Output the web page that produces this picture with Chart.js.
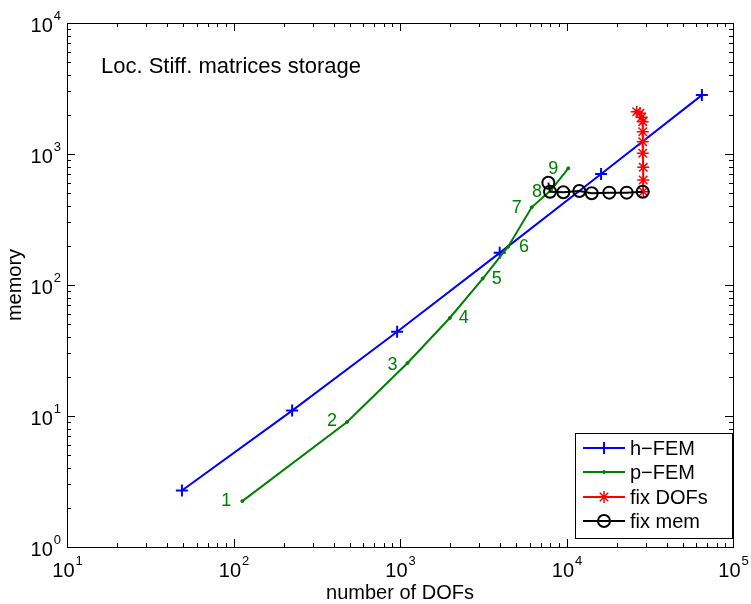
<!DOCTYPE html>
<html>
<head>
<meta charset="utf-8">
<title>Loc. Stiff. matrices storage</title>
<script src="https://cdn.jsdelivr.net/npm/chart.js@4.4.1/dist/chart.umd.min.js"></script>
<style>
  html, body { margin: 0; padding: 0; background: #fff; }
  #wrap { width: 751px; height: 604px; }
</style>
</head>
<body>
<div id="wrap"><canvas id="chart" width="751" height="604"></canvas></div>
<script>
// --- datos (log-log) ---
const hDofs = [49, 225, 961, 3969, 16129, 65025];
const hMem = [2.7, 11, 44, 176, 704, 2816];

const pDofs = [113, 481, 1110, 1990, 3140, 4460, 6180, 8070, 10250];
const pMem = [2.24, 9.0, 25.4, 56, 112, 196, 392, 531, 778];
const pLabels = ['1', '2', '3', '4', '5', '6', '7', '8', '9'];

const fixDofsX = [26400, 27600, 28300, 28700, 28700, 28700, 28700, 28900, 28900, 28900];
const fixDofsY = [2100, 2046, 1906, 1766, 1480, 1241, 1012, 791, 634, 515];

const fixMemX = [7780, 7960, 9570, 11940, 14170, 18060, 22990, 28700];
const fixMemY = [604, 515, 510, 522, 501, 507, 507, 515];

const xExps = [1, 2, 3, 4, 5];
const yExps = [0, 1, 2, 3, 4];
const seriesNames = ['h\u2212FEM', 'p\u2212FEM', 'fix DOFs', 'fix mem'];

const FONT = '"Liberation Sans", Arial, Helvetica, sans-serif';
const GREEN = '#008000';

// desplazamiento (px) de cada etiqueta de p respecto a su punto
const pLabelOffsets = [[-16, 0], [-15, -1], [-15, 2], [14, 0], [14, 0], [16, 0], [-15, 1], [-14, 2], [-15, 1]];

const pts = (xs, ys) => xs.map((x, i) => ({ x: x, y: ys[i] }));

// --- ejes estilo MATLAB, etiquetas y leyenda ---
const matlabAxes = {
    id: 'matlabAxes',
    afterDraw(chart) {
        const ctx = chart.ctx;
        const a = chart.chartArea;
        const sx = chart.scales.x, sy = chart.scales.y;
        ctx.save();

        // marco
        ctx.strokeStyle = '#000';
        ctx.lineWidth = 1;
        ctx.strokeRect(a.left + 0.5, a.top + 0.5, a.right - a.left, a.bottom - a.top);

        // ticks hacia dentro en los 4 lados
        ctx.beginPath();
        for (let e = 1; e <= 5; e++) {
            for (let m = 1; m <= 9; m++) {
                const v = m * Math.pow(10, e);
                if (v > 1e5) break;
                const px = Math.round(sx.getPixelForValue(v)) + 0.5;
                const len = m === 1 ? 8 : 4;
                ctx.moveTo(px, a.bottom); ctx.lineTo(px, a.bottom - len);
                ctx.moveTo(px, a.top); ctx.lineTo(px, a.top + len);
            }
        }
        for (let e = 0; e <= 4; e++) {
            for (let m = 1; m <= 9; m++) {
                const v = m * Math.pow(10, e);
                if (v > 1e4) break;
                const py = Math.round(sy.getPixelForValue(v)) + 0.5;
                const len = m === 1 ? 8 : 4;
                ctx.moveTo(a.left, py); ctx.lineTo(a.left + len, py);
                ctx.moveTo(a.right, py); ctx.lineTo(a.right - len, py);
            }
        }
        ctx.stroke();

        // etiquetas 10^n
        ctx.fillStyle = '#000';
        ctx.textBaseline = 'alphabetic';
        ctx.textAlign = 'left';
        const big = '20px ' + FONT, small = '13px ' + FONT;
        xExps.forEach(e => {
            const px = sx.getPixelForValue(Math.pow(10, e));
            ctx.font = big; const w1 = ctx.measureText('10').width;
            ctx.font = small; const w2 = ctx.measureText(String(e)).width;
            const x0 = px - (w1 + w2) / 2;
            ctx.font = big; ctx.fillText('10', x0, 577);
            ctx.font = small; ctx.fillText(String(e), x0 + w1 + 1, 565);
        });
        yExps.forEach(e => {
            const py = sy.getPixelForValue(Math.pow(10, e));
            ctx.font = small; const w2 = ctx.measureText(String(e)).width;
            ctx.font = big; const w1 = ctx.measureText('10').width;
            const x0 = a.left - 6 - w2 - w1 - 1;
            ctx.fillText('10', x0, py + 9);
            ctx.font = small; ctx.fillText(String(e), x0 + w1 + 1, py - 3);
        });

        // títulos de ejes
        ctx.font = big;
        ctx.textAlign = 'center';
        ctx.fillText('number of DOFs', (a.left + a.right) / 2, 599);
        ctx.save();
        ctx.translate(21, (a.top + a.bottom) / 2);
        ctx.rotate(-Math.PI / 2);
        ctx.fillText('memory', 0, 0);
        ctx.restore();

        // texto dentro del gráfico
        ctx.font = '22px ' + FONT;
        ctx.textAlign = 'left';
        ctx.textBaseline = 'middle';
        ctx.fillText('Loc. Stiff. matrices storage', 101, 67);

        // números de p
        ctx.font = '18px ' + FONT;
        ctx.fillStyle = GREEN;
        ctx.textAlign = 'center';
        pLabels.forEach((t, i) => {
            const px = sx.getPixelForValue(pDofs[i]) + pLabelOffsets[i][0];
            const py = sy.getPixelForValue(pMem[i]) + pLabelOffsets[i][1];
            ctx.fillText(t, px, py);
        });

        // leyenda
        const box = { l: 575, t: 433, r: 732, b: 538 };
        ctx.fillStyle = '#fff';
        ctx.fillRect(box.l, box.t, box.r - box.l, box.b - box.t);
        ctx.strokeStyle = '#000';
        ctx.lineWidth = 1;
        ctx.strokeRect(box.l + 0.5, box.t + 0.5, box.r - box.l, box.b - box.t);
        const rows = [448, 472, 497, 521];
        chart.data.datasets.forEach((ds, i) => {
            const y = rows[i];
            ctx.strokeStyle = ds.borderColor;
            ctx.fillStyle = ds.pointBackgroundColor;
            ctx.lineWidth = ds.borderWidth;
            ctx.beginPath(); ctx.moveTo(583, y); ctx.lineTo(625, y); ctx.stroke();
            ctx.lineWidth = ds.pointBorderWidth;
            Chart.helpers.drawPoint(ctx, {
                pointStyle: ds.pointStyle, radius: ds.pointRadius,
                borderWidth: ds.pointBorderWidth, rotation: 0
            }, 604, y);
            ctx.fillStyle = '#000';
            ctx.font = big;
            ctx.textAlign = 'left';
            ctx.textBaseline = 'middle';
            ctx.fillText(ds.label, 630, y + 1);
        });

        ctx.restore();
    }
};

new Chart(document.getElementById('chart'), {
    type: 'scatter',
    data: {
        datasets: [
            {
                label: seriesNames[0], data: pts(hDofs, hMem), showLine: true,
                borderColor: '#0000ff', pointBorderColor: '#0000ff', pointBackgroundColor: '#0000ff',
                borderWidth: 2, pointStyle: 'cross', pointRadius: 6, pointBorderWidth: 2, order: 3
            },
            {
                label: seriesNames[1], data: pts(pDofs, pMem), showLine: true,
                borderColor: GREEN, pointBorderColor: GREEN, pointBackgroundColor: GREEN,
                borderWidth: 2, pointStyle: 'circle', pointRadius: 1.5, pointBorderWidth: 1, order: 2
            },
            {
                label: seriesNames[2], data: pts(fixDofsX, fixDofsY), showLine: true,
                borderColor: '#ff0000', pointBorderColor: '#ff0000', pointBackgroundColor: '#ff0000',
                borderWidth: 2, pointStyle: 'star', pointRadius: 6, pointBorderWidth: 1.5, order: 1
            },
            {
                label: seriesNames[3], data: pts(fixMemX, fixMemY), showLine: true,
                borderColor: '#000', pointBorderColor: '#000', pointBackgroundColor: 'rgba(0,0,0,0)',
                borderWidth: 2, pointStyle: 'circle', pointRadius: 6, pointBorderWidth: 2, order: 0
            }
        ]
    },
    options: {
        responsive: false,
        animation: false,
        devicePixelRatio: 1,
        layout: { padding: { left: 67, right: 18, top: 23, bottom: 57 } },
        scales: {
            x: { type: 'logarithmic', min: 10, max: 1e5, display: false },
            y: { type: 'logarithmic', min: 1, max: 1e4, display: false }
        },
        elements: { line: { tension: 0 } },
        plugins: { legend: { display: false }, tooltip: { enabled: false } }
    },
    plugins: [matlabAxes]
});
</script>
</body>
</html>
